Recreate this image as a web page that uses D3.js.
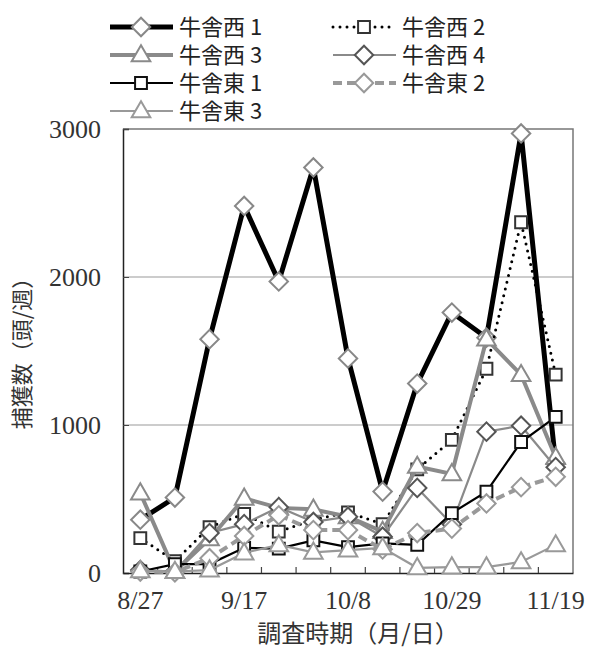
<!DOCTYPE html>
<html>
<head>
<meta charset="utf-8">
<script src="https://cdn.jsdelivr.net/npm/d3@7"></script>
<style>
body { margin: 0; background: #fff; }
</style>
</head>
<body>
<div id="chart"></div>
<script>
// survey dates (weekly)
var dates = ["8/27", "9/3", "9/10", "9/17", "9/24", "10/1", "10/8", "10/15", "10/22", "10/29", "11/5", "11/12", "11/19"];
var xLabels = ["8/27", "9/17", "10/8", "10/29", "11/19"];
var yTicks = [0, 1000, 2000, 3000];

var names = ["牛舎西 1", "牛舎西 2", "牛舎西 3", "牛舎西 4", "牛舎東 1", "牛舎東 2", "牛舎東 3"];
var west1 = [360, 510, 1580, 2480, 1970, 2740, 1450, 550, 1280, 1760, 1590, 2970, 740];
var west2 = [236, 80, 310, 400, 280, 360, 410, 330, 700, 900, 1380, 2370, 1340];
var west3 = [540, 10, 230, 505, 440, 430, 380, 280, 720, 670, 1580, 1340, 780];
var west4 = [20, 10, 270, 330, 445, 345, 380, 245, 575, 330, 955, 995, 715];
var east1 = [10, 60, 60, 170, 165, 220, 175, 200, 190, 405, 550, 885, 1055];
var east2 = [10, 5, 100, 250, 390, 290, 290, 160, 270, 300, 470, 580, 650];
var east3 = [15, 10, 20, 135, 190, 140, 155, 170, 35, 40, 40, 75, 190];

var allSeries = [west1, west2, west3, west4, east1, east2, east3];

// line / marker styles per series
var styles = [
  {stroke: "#000", width: 5, dash: null, shape: "diamond", mstroke: "#888"},
  {stroke: "#000", width: 3, dash: "0,7", shape: "square", mstroke: "#333"},
  {stroke: "#8a8a8a", width: 4, dash: null, shape: "triangle", mstroke: "#8a8a8a"},
  {stroke: "#8a8a8a", width: 2.2, dash: null, shape: "diamond", mstroke: "#555"},
  {stroke: "#000", width: 2.2, dash: null, shape: "square", mstroke: "#111"},
  {stroke: "#999", width: 4, dash: "9,5", shape: "diamond", mstroke: "#999"},
  {stroke: "#999", width: 2.2, dash: null, shape: "triangle", mstroke: "#999"}
];

var w = 597, h = 655;
var plotLeft = 123, plotRight = 573, plotTop = 129, plotBottom = 573;

var svg = d3.select("#chart").append("svg")
  .attr("width", w)
  .attr("height", h)
  .style("font-family", "'Noto Sans CJK JP', sans-serif");

var x = d3.scaleBand().domain(dates).range([plotLeft, plotRight]).padding(0);
var y = d3.scaleLinear().domain([0, 3000]).range([plotBottom, plotTop]);
var cx = function(d) { return x(d) + x.bandwidth() / 2; };

// gridlines
svg.selectAll("line.grid")
  .data(yTicks.filter(function(d) { return d > 0 && d < 3000; }))
  .enter().append("line")
  .attr("class", "grid")
  .attr("x1", plotLeft).attr("x2", plotRight)
  .attr("y1", function(d) { return y(d); })
  .attr("y2", function(d) { return y(d); })
  .attr("stroke", "#999").attr("stroke-width", 1.2);

// plot border top/right
svg.append("path")
  .attr("d", "M" + plotLeft + "," + y(3000) + "H" + plotRight + "V" + plotBottom)
  .attr("fill", "none").attr("stroke", "#777").attr("stroke-width", 1.5);

// y axis
var yAxis = svg.append("g")
  .attr("transform", "translate(" + plotLeft + ",0)")
  .call(d3.axisLeft(y).tickValues(yTicks).tickSize(-6).tickPadding(22).tickFormat(d3.format("d")));
yAxis.select(".domain").attr("stroke", "#222").attr("stroke-width", 1.5);
yAxis.selectAll(".tick line").attr("stroke", "#444");
yAxis.selectAll("text")
  .style("font-family", "'Liberation Serif', serif")
  .style("font-size", "26px")
  .attr("fill", "#333");

// x axis: labels every 3 weeks, ticks at category boundaries
var xAxis = svg.append("g")
  .attr("transform", "translate(0," + plotBottom + ")")
  .call(d3.axisBottom(x).tickValues(xLabels).tickSize(0).tickPadding(18));
xAxis.select(".domain").attr("stroke", "#222").attr("stroke-width", 1.5);
xAxis.selectAll("text")
  .style("font-family", "'Liberation Serif', serif")
  .style("font-size", "26px")
  .attr("fill", "#333");

svg.selectAll("line.xtick")
  .data(dates.slice(1))
  .enter().append("line")
  .attr("class", "xtick")
  .attr("x1", function(d) { return x(d); })
  .attr("x2", function(d) { return x(d); })
  .attr("y1", plotBottom).attr("y2", plotBottom - 6)
  .attr("stroke", "#444").attr("stroke-width", 1.2);

// axis titles
svg.append("text")
  .attr("x", 358).attr("y", 642)
  .attr("text-anchor", "middle")
  .style("font-size", "24px")
  .attr("fill", "#333")
  .text("調査時期（月/日）");

svg.append("text")
  .attr("transform", "translate(30,348) rotate(-90)")
  .attr("text-anchor", "middle")
  .style("font-size", "22px")
  .attr("fill", "#333")
  .text("捕獲数（頭/週）");

// marker shapes
function markerPath(shape) {
  if (shape === "diamond") return d3.symbol().type(d3.symbolSquare).size(170)();
  if (shape === "square") return d3.symbol().type(d3.symbolSquare).size(140)();
  return d3.symbol().type(d3.symbolTriangle).size(150)();
}
function markerTransform(shape, px, py) {
  var t = "translate(" + px + "," + py + ")";
  if (shape === "diamond") t += " rotate(45)";
  if (shape === "triangle") t += " translate(0,1)";
  return t;
}

var line = d3.line()
  .x(function(d, i) { return cx(dates[i]); })
  .y(function(d) { return y(d); });

// draw series
var groups = svg.selectAll("g.series")
  .data(allSeries)
  .enter().append("g")
  .attr("class", "series");

groups.append("path")
  .attr("d", function(d) { return line(d); })
  .attr("fill", "none")
  .attr("stroke", function(d, i) { return styles[i].stroke; })
  .attr("stroke-width", function(d, i) { return styles[i].width; })
  .attr("stroke-dasharray", function(d, i) { return styles[i].dash; })
  .attr("stroke-linecap", function(d, i) { return styles[i].dash === "0,7" ? "round" : "butt"; })
  .attr("stroke-linejoin", "miter");

groups.each(function(series, si) {
  var st = styles[si];
  d3.select(this).selectAll("path.mark")
    .data(series)
    .enter().append("path")
    .attr("class", "mark")
    .attr("d", markerPath(st.shape))
    .attr("transform", function(d, i) { return markerTransform(st.shape, cx(dates[i]), y(d)); })
    .attr("fill", "#fff")
    .attr("stroke", st.mstroke)
    .attr("stroke-width", 2);
});

// legend
var legendPos = [
  [110, 27], [333, 27],
  [110, 55], [333, 55],
  [110, 83], [333, 83],
  [110, 111]
];
var legend = svg.selectAll("g.legend")
  .data(names)
  .enter().append("g")
  .attr("class", "legend")
  .attr("transform", function(d, i) { return "translate(" + legendPos[i][0] + "," + legendPos[i][1] + ")"; });

legend.append("line")
  .attr("x1", 0).attr("x2", 63)
  .attr("y1", 0).attr("y2", 0)
  .attr("stroke", function(d, i) { return styles[i].stroke; })
  .attr("stroke-width", function(d, i) { return styles[i].width; })
  .attr("stroke-dasharray", function(d, i) { return styles[i].dash; })
  .attr("stroke-linecap", function(d, i) { return styles[i].dash === "0,7" ? "round" : "butt"; });

legend.append("path")
  .attr("d", function(d, i) { return markerPath(styles[i].shape); })
  .attr("transform", function(d, i) { return markerTransform(styles[i].shape, 31, 0); })
  .attr("fill", "#fff")
  .attr("stroke", function(d, i) { return styles[i].mstroke; })
  .attr("stroke-width", 2);

legend.append("text")
  .attr("x", 69).attr("y", 8)
  .style("font-size", "22px")
  .attr("fill", "#222")
  .text(function(d) { return d; });
</script>
</body>
</html>
